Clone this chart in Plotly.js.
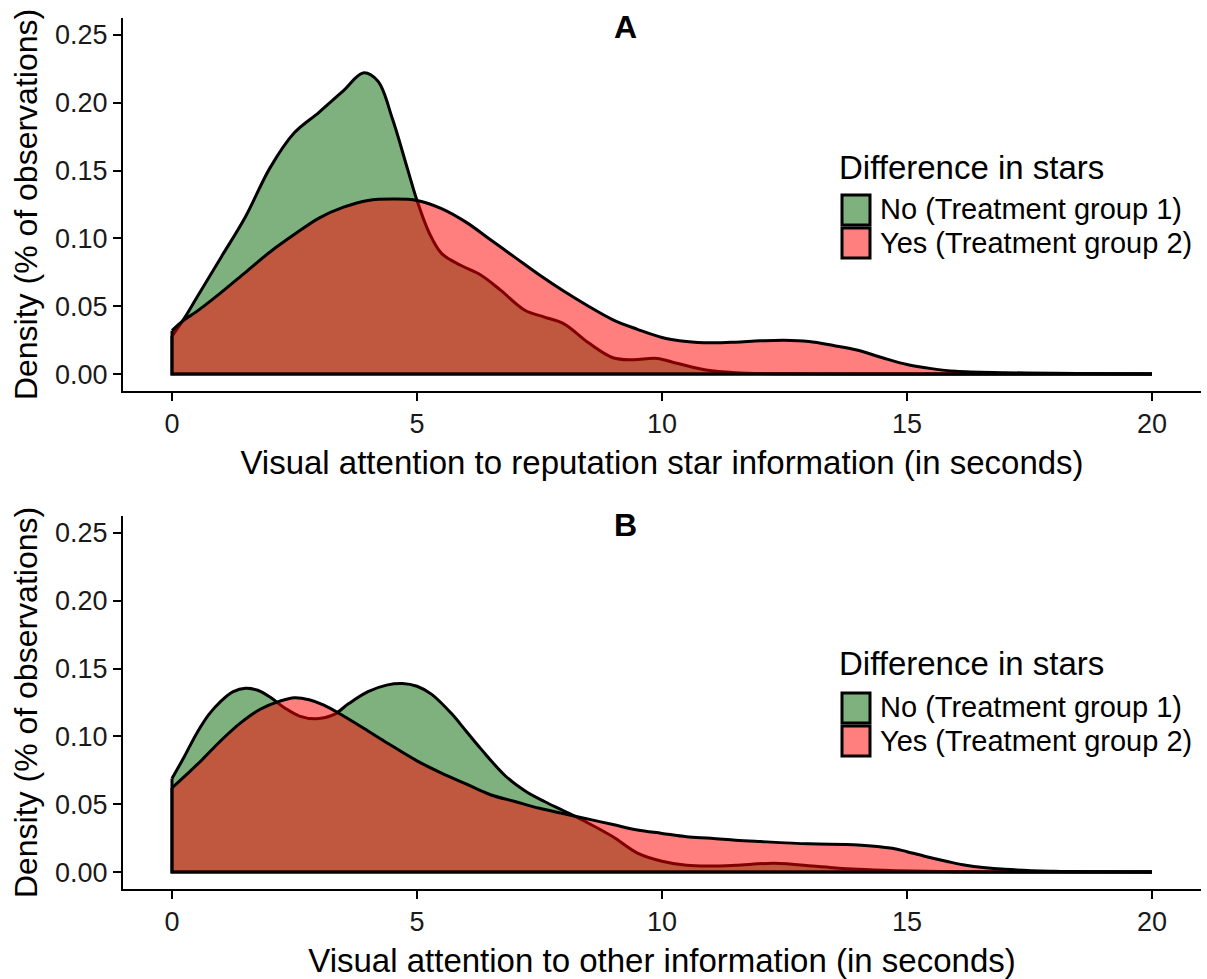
<!DOCTYPE html>
<html><head><meta charset="utf-8">
<script src="https://cdn.plot.ly/plotly-3.0.1.min.js"></script>
<style>html,body{margin:0;padding:0;background:#fff;} #chart{width:1207px;height:979px;}</style>
</head><body><div id="chart"></div>
<script>
// ---- data ----
const seriesNames = ["No (Treatment group 1)", "Yes (Treatment group 2)"];
const legendTitle = "Difference in stars";
const panelTitles = ["A", "B"];
const xTitles = ["Visual attention to reputation star information (in seconds)",
                 "Visual attention to other information (in seconds)"];
const yTitle = "Density (% of observations)";
const xTickVals = [0, 5, 10, 15, 20];
const yTickVals = [0, 0.05, 0.10, 0.15, 0.20, 0.25];

// Panel A
const aNoX  = [0, 0.25, 0.5, 1.0, 1.5, 2.0, 2.5, 3.0, 3.5, 3.9, 4.2, 4.5, 4.8, 5.0, 5.25, 5.5, 5.9, 6.3, 6.7, 7.2, 7.6, 8.0, 8.5, 9.0, 9.4, 9.9, 10.3, 10.9, 11.5, 12.5, 14, 16, 18, 20];
const aNoY  = [0.028, 0.041, 0.056, 0.086, 0.116, 0.152, 0.178, 0.193, 0.209, 0.222, 0.216, 0.188, 0.152, 0.128, 0.104, 0.089, 0.080, 0.073, 0.062, 0.047, 0.042, 0.037, 0.023, 0.012, 0.0105, 0.0115, 0.008, 0.003, 0.001, 0.0002, 0, 0, 0, 0];
const aYesX = [0, 0.25, 0.5, 1.0, 1.5, 2.0, 2.5, 3.0, 3.5, 4.0, 4.5, 5.0, 5.5, 6.0, 6.5, 7.0, 7.5, 8.0, 8.5, 9.0, 9.5, 10.0, 10.5, 11.0, 11.5, 12.0, 12.5, 13.0, 13.5, 14.0, 14.5, 15.0, 15.5, 16.0, 17.0, 18.0, 19.0, 20.0];
const aYesY = [0.032, 0.040, 0.046, 0.060, 0.075, 0.090, 0.103, 0.115, 0.123, 0.128, 0.129, 0.128, 0.122, 0.112, 0.099, 0.086, 0.073, 0.061, 0.050, 0.040, 0.033, 0.027, 0.024, 0.023, 0.0235, 0.0245, 0.025, 0.024, 0.021, 0.0175, 0.012, 0.007, 0.004, 0.002, 0.001, 0.0005, 0.0002, 0];

// Panel B
const bNoX  = [0, 0.25, 0.5, 0.75, 1.0, 1.25, 1.5, 1.75, 2.0, 2.3, 2.6, 2.95, 3.3, 3.6, 4.0, 4.4, 4.7, 5.0, 5.3, 5.7, 6.0, 6.3, 6.8, 7.2, 7.6, 8.0, 8.5, 9.0, 9.5, 10.0, 10.5, 11.0, 11.5, 12.3, 13.2, 14.0, 14.8, 16, 18, 20];
const bNoY  = [0.069, 0.085, 0.102, 0.116, 0.126, 0.133, 0.1355, 0.134, 0.129, 0.121, 0.115, 0.113, 0.116, 0.124, 0.133, 0.138, 0.139, 0.137, 0.131, 0.117, 0.104, 0.091, 0.071, 0.060, 0.052, 0.045, 0.036, 0.026, 0.014, 0.008, 0.005, 0.0045, 0.005, 0.0064, 0.004, 0.002, 0.001, 0.0002, 0, 0];
const bYesX = [0, 0.3, 0.62, 1.0, 1.4, 1.8, 2.2, 2.5, 2.8, 3.1, 3.5, 4.0, 4.4, 5.0, 5.5, 6.0, 6.5, 7.0, 7.5, 8.0, 8.5, 9.0, 9.5, 10.0, 10.5, 11.0, 11.5, 12.0, 13.0, 14.0, 14.7, 15.0, 15.4, 15.8, 16.2, 17.0, 18.0, 19.0, 20.0];
const bYesY = [0.062, 0.072, 0.083, 0.097, 0.110, 0.120, 0.126, 0.1285, 0.127, 0.123, 0.115, 0.104, 0.095, 0.082, 0.073, 0.065, 0.057, 0.052, 0.047, 0.043, 0.039, 0.035, 0.031, 0.0285, 0.026, 0.025, 0.0235, 0.0225, 0.0208, 0.020, 0.0175, 0.015, 0.0113, 0.008, 0.005, 0.002, 0.0006, 0.0002, 0];

// ---- styling ----
const W = 1207, H = 979;
const FONT = "Liberation Sans, Arial, sans-serif";
const fills = ["rgba(0,100,0,0.5)", "rgba(255,0,0,0.5)"];
const px = v => v / W;            // pixel x -> paper
const py = v => 1 - v / H;        // pixel y -> paper

const panels = [
  {series: [[aNoX, aNoY], [aYesX, aYesY]], xa: "x", ya: "y"},
  {series: [[bNoX, bNoY], [bYesX, bYesY]], xa: "x2", ya: "y2"}
];

const traces = [];
panels.forEach((p, pi) => {
  p.series.forEach(([xs, ys], si) => {
    traces.push({
      type: "scatter", mode: "lines", x: xs, y: ys, xaxis: p.xa, yaxis: p.ya,
      fill: "tozeroy", fillcolor: fills[si],
      line: {color: "black", width: 3, shape: "spline", smoothing: 1},
      name: seriesNames[si], showlegend: false, hoverinfo: "x+y+name"
    });
    // left edge + baseline of the density polygon
    traces.push({
      type: "scatter", mode: "lines",
      x: [xs[xs.length - 1], xs[0], xs[0]], y: [0, 0, ys[0]],
      xaxis: p.xa, yaxis: p.ya,
      line: {color: "black", width: 3}, showlegend: false, hoverinfo: "skip"
    });
  });
});

// pixel geometry of panels
const plotLeft = 123, plotRight = 1201;
const panelPix = [{top: 18, bottom: 391}, {top: 516, bottom: 889}];

function xAxis(pi) {
  return {
    domain: [px(plotLeft), px(plotRight)], anchor: pi === 0 ? "y" : "y2",
    range: [-1, 21], tickvals: xTickVals, showgrid: false, zeroline: false,
    showline: true, linecolor: "black", linewidth: 2,
    ticks: "outside", ticklen: 8, tickwidth: 2, tickcolor: "black",
    tickfont: {family: FONT, size: 27, color: "#1a1a1a"},
    title: {text: xTitles[pi], font: {family: FONT, size: 33, color: "black"}, standoff: 12},
    fixedrange: true
  };
}
function yAxis(pi) {
  return {
    domain: [py(panelPix[pi].bottom), py(panelPix[pi].top)], anchor: pi === 0 ? "x" : "x2",
    range: [-0.0125, 0.2625], tickvals: yTickVals, tickformat: ".2f",
    showgrid: false, zeroline: false,
    showline: true, linecolor: "black", linewidth: 2,
    ticks: "outside", ticklen: 8, tickwidth: 2, tickcolor: "black",
    tickfont: {family: FONT, size: 27, color: "#1a1a1a"},
    title: {text: yTitle, font: {family: FONT, size: 32, color: "black"}, standoff: 8},
    fixedrange: true
  };
}

// legends and panel titles (drawn in paper coordinates)
const annotations = [];
const shapes = [];
const legendGeom = [
  {title: 167, keys: [[195, 225], [228, 258]], labels: [209, 243]},
  {title: 663, keys: [[693, 723], [726, 756]], labels: [707, 741]}
];
const titleY = [27, 525];
panelTitles.forEach((t, pi) => {
  annotations.push({
    xref: "paper", yref: "paper", x: px(625), y: py(titleY[pi]),
    text: "<b>" + t + "</b>", showarrow: false, xanchor: "center", yanchor: "middle",
    font: {family: FONT, size: 32, color: "black"}
  });
  const g = legendGeom[pi];
  annotations.push({
    xref: "paper", yref: "paper", x: px(837), y: py(g.title),
    text: legendTitle, showarrow: false, xanchor: "left", yanchor: "middle",
    font: {family: FONT, size: 33, color: "black"}
  });
  seriesNames.forEach((n, si) => {
    shapes.push({
      type: "rect", xref: "paper", yref: "paper",
      x0: px(842), x1: px(870), y0: py(g.keys[si][1]), y1: py(g.keys[si][0]),
      fillcolor: fills[si], line: {color: "black", width: 3}
    });
    annotations.push({
      xref: "paper", yref: "paper", x: px(878), y: py(g.labels[si]),
      text: n, showarrow: false, xanchor: "left", yanchor: "middle",
      font: {family: FONT, size: 29, color: "black"}
    });
  });
});

const layout = {
  width: W, height: H, margin: {l: 0, r: 0, t: 0, b: 0},
  paper_bgcolor: "white", plot_bgcolor: "white",
  showlegend: false,
  font: {family: FONT, color: "black"},
  xaxis: xAxis(0), yaxis: yAxis(0), xaxis2: xAxis(1), yaxis2: yAxis(1),
  annotations: annotations, shapes: shapes
};

Plotly.newPlot("chart", traces, layout, {displayModeBar: false, staticPlot: true});
</script>
</body></html>
